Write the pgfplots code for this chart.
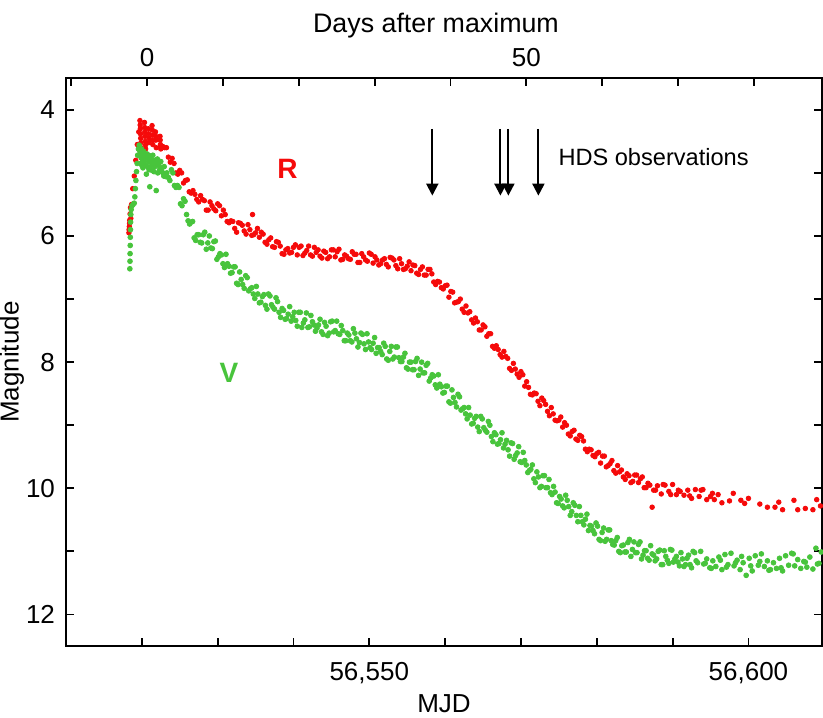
\documentclass[border=0pt]{standalone}
\usepackage{pgfplots}
\pgfplotsset{compat=1.18}
\usepackage{pgfplotstable}
\usepackage{fontspec}
\setmainfont{Liberation Sans}
\usetikzlibrary{arrows.meta}
\definecolor{rred}{RGB}{245,10,10}
\definecolor{vgreen}{RGB}{72,196,60}

\pgfplotstableread{
x y
56518.30 5.95
56518.32 5.90
56518.35 5.85
56518.38 5.80
56518.40 5.75
56518.45 5.65
56518.50 5.55
56518.55 5.72
56518.65 5.50
56518.80 5.25
56519.00 5.05
56519.20 4.80
56519.40 4.55
56519.60 4.35
56519.75 4.17
56519.78 4.24
56519.80 4.30
56519.82 4.38
56519.85 4.45
56519.88 4.52
56519.90 4.60
56520.35 4.20
56520.38 4.28
56520.40 4.35
56520.42 4.42
56520.45 4.50
56520.48 4.56
56520.50 4.62
56520.85 4.30
56520.90 4.38
56520.92 4.52
56520.95 4.45
56521.35 4.25
56521.38 4.32
56521.40 4.40
56521.42 4.48
56521.45 4.55
56521.80 4.35
56521.83 4.42
56521.85 4.48
56521.90 4.60
56522.40 4.42
56522.42 4.48
56522.45 4.55
56522.48 4.58
56522.50 4.62
56522.75 4.58
56523.0 4.60
56523.5 4.75
56524.0 4.77
56524.5 5.00
56525.0 4.96
56525.5 5.16
56526.0 5.11
56526.5 5.32
56527.0 5.34
56527.5 5.46
56528.0 5.42
56528.5 5.59
56529.0 5.46
56529.5 5.57
56530.0 5.49
56530.5 5.68
56531.0 5.66
56531.5 5.79
56532.0 5.77
56532.5 5.94
56533.0 5.80
56533.5 5.92
56534.0 5.82
56534.5 5.99
56534.6 5.66
56535.0 5.95
56535.5 6.02
56536.0 5.97
56536.5 6.13
56537.0 6.03
56537.5 6.18
56538.0 6.10
56538.5 6.28
56539.0 6.22
56539.5 6.27
56540.0 6.18
56540.5 6.30
56541.0 6.16
56541.5 6.27
56542.0 6.16
56542.5 6.32
56543.0 6.26
56543.5 6.32
56544.0 6.24
56544.5 6.36
56545.0 6.22
56545.5 6.33
56546.0 6.21
56546.5 6.37
56547.0 6.32
56547.5 6.37
56548.0 6.29
56548.5 6.42
56549.0 6.28
56549.5 6.38
56550.0 6.27
56550.5 6.43
56551.0 6.38
56551.5 6.44
56552.0 6.36
56552.5 6.49
56553.0 6.35
56553.5 6.47
56554.0 6.36
56554.5 6.53
56555.0 6.48
56555.5 6.55
56556.0 6.47
56556.5 6.61
56557.0 6.49
56557.5 6.62
56558.0 6.53
56558.5 6.73
56559.0 6.72
56559.5 6.82
56560.0 6.79
56560.5 6.97
56561.0 6.89
56561.5 7.05
56562.0 7.00
56562.5 7.21
56563.0 7.22
56563.5 7.33
56564.0 7.30
56564.5 7.49
56565.0 7.41
56565.5 7.59
56566.0 7.55
56566.5 7.78
56567.0 7.80
56567.5 7.92
56568.0 7.91
56568.5 8.10
56569.0 8.02
56569.5 8.19
56570.0 8.15
56570.5 8.38
56571.0 8.40
56571.5 8.52
56572.0 8.50
56572.5 8.69
56573.0 8.61
56573.5 8.78
56574.0 8.72
56574.5 8.92
56575.0 8.92
56575.5 9.03
56576.0 9.00
56576.5 9.17
56577.0 9.08
56577.5 9.24
56578.0 9.18
56578.5 9.38
56579.0 9.38
56579.5 9.48
56580.0 9.45
56580.5 9.60
56581.0 9.49
56581.5 9.64
56582.0 9.56
56582.5 9.76
56583.0 9.74
56583.5 9.82
56584.0 9.77
56584.5 9.91
56585.0 9.79
56585.5 9.91
56586.0 9.82
56586.5 9.99
56587.0 9.95
56587.3 10.30
56587.5 10.03
56588.0 9.96
56588.5 10.09
56589.0 9.95
56589.5 10.05
56590.0 9.94
56590.5 10.10
56591.0 10.05
56591.5 10.11
56592.0 10.03
56592.5 10.16
56593.0 10.02
56593.5 10.13
56594.0 10.02
56594.5 10.18
56595.0 10.13
56595.5 10.18
56596.0 10.10
56596.5 10.23
56597.5 10.20
56598.0 10.08
56599.0 10.19
56599.5 10.24
56600.0 10.16
56601.5 10.25
56602.5 10.30
56603.5 10.30
56604.0 10.22
56604.5 10.34
56606.0 10.19
56606.5 10.34
56607.5 10.32
56608.5 10.34
56609.0 10.18
56609.5 10.28
56523.25 4.60
56523.75 4.83
56524.25 4.85
56524.75 5.02
56525.25 5.00
56525.75 5.12
56526.25 5.30
56526.75 5.28
56527.25 5.42
56527.75 5.36
56528.25 5.44
56528.75 5.59
56529.25 5.52
56529.75 5.60
56530.25 5.52
56530.75 5.59
56531.25 5.77
56531.75 5.76
56532.25 5.88
56532.75 5.79
56533.25 5.83
56533.75 5.97
56534.25 5.90
56534.75 5.98
56535.25 5.88
56535.75 5.94
56536.25 6.10
56536.75 6.06
56537.25 6.17
56537.75 6.09
56538.25 6.16
56538.75 6.29
56539.25 6.20
56539.75 6.26
56540.25 6.14
56540.75 6.18
56541.25 6.31
56541.75 6.23
56542.25 6.30
56542.75 6.18
56543.25 6.22
56543.75 6.35
56544.25 6.26
56544.75 6.33
56545.25 6.22
56545.75 6.25
56546.25 6.38
56546.75 6.30
56547.25 6.36
56547.75 6.25
56548.25 6.29
56548.75 6.42
56549.25 6.33
56549.75 6.40
56550.25 6.29
56550.75 6.33
56551.25 6.46
56551.75 6.38
56552.25 6.45
56552.75 6.34
56553.25 6.38
56553.75 6.52
56554.25 6.44
56554.75 6.52
56555.25 6.41
56555.75 6.46
56556.25 6.59
56556.75 6.53
56557.25 6.62
56557.75 6.53
56558.25 6.60
56558.75 6.77
56559.25 6.73
56559.75 6.84
56560.25 6.78
56560.75 6.88
56561.25 7.06
56561.75 7.04
56562.25 7.16
56562.75 7.11
56563.25 7.20
56563.75 7.38
56564.25 7.36
56564.75 7.49
56565.25 7.44
56565.75 7.55
56566.25 7.75
56566.75 7.74
56567.25 7.88
56567.75 7.83
56568.25 7.94
56568.75 8.13
56569.25 8.11
56569.75 8.24
56570.25 8.20
56570.75 8.31
56571.25 8.51
56571.75 8.49
56572.25 8.62
56572.75 8.57
56573.25 8.67
56573.75 8.85
56574.25 8.82
56574.75 8.93
56575.25 8.87
56575.75 8.96
56576.25 9.14
56576.75 9.10
56577.25 9.22
56577.75 9.16
56578.25 9.25
56578.75 9.42
56579.25 9.39
56579.75 9.50
56580.25 9.43
56580.75 9.49
56581.25 9.66
56581.75 9.61
56582.25 9.72
56582.75 9.64
56583.25 9.71
56583.75 9.86
56584.25 9.80
56584.75 9.89
56585.25 9.79
56585.75 9.85
56586.25 9.99
56586.75 9.92
56587.75 10.03
56588.75 9.94
56589.75 10.10
56590.75 10.03
56592.25 10.12
56593.75 10.03
56595.25 10.08
}\reddata

\pgfplotstableread{
x y
56518.42 6.52
56518.44 6.40
56518.45 6.28
56518.47 6.15
56518.48 6.02
56518.50 5.90
56518.52 5.78
56518.55 5.66
56518.60 5.58
56518.70 5.52
56518.85 5.50
56519.00 5.48
56519.08 5.38
56519.15 5.25
56519.22 5.12
56519.30 4.98
56519.38 4.85
56519.45 4.72
56519.55 4.62
56519.65 4.56
56519.70 4.64
56519.75 4.70
56519.85 4.85
56519.90 4.76
56519.95 4.62
56520.00 4.88
56520.05 4.78
56520.15 4.92
56520.20 4.70
56520.25 4.66
56520.30 4.82
56520.40 4.74
56520.50 4.88
56520.55 4.76
56520.60 5.02
56520.70 4.70
56520.75 4.90
56520.85 4.82
56520.90 4.72
56520.95 4.95
56521.05 5.22
56521.10 4.94
56521.15 4.76
56521.20 4.80
56521.30 4.88
56521.35 4.96
56521.45 4.72
56521.50 4.84
56521.60 4.98
56521.70 4.90
56521.75 4.80
56521.90 5.28
56521.95 4.86
56522.05 4.78
56522.10 5.00
56522.20 4.88
56522.30 4.84
56522.35 4.95
56522.50 4.82
56522.60 4.98
56522.65 4.92
56522.80 5.00
56522.90 5.05
56522.95 4.90
56523.10 5.02
56523.20 5.06
56523.3 5.00
56523.7 5.12
56524.1 5.00
56524.5 5.23
56524.9 5.23
56525.3 5.52
56525.7 5.45
56526.1 5.76
56526.5 5.78
56526.9 6.03
56527.3 5.98
56527.7 6.10
56528.1 5.98
56528.5 6.21
56528.9 6.00
56529.3 6.20
56529.7 6.08
56530.1 6.33
56530.5 6.30
56530.9 6.50
56531.3 6.44
56531.7 6.59
56532.1 6.49
56532.5 6.75
56532.9 6.57
56533.3 6.77
56533.7 6.63
56534.1 6.87
56534.5 6.82
56534.9 6.99
56535.3 6.92
56535.7 7.05
56536.1 6.93
56536.5 7.16
56536.9 6.95
56537.3 7.13
56537.7 6.98
56538.1 7.21
56538.5 7.15
56538.9 7.32
56539.3 7.24
56539.7 7.35
56540.1 7.21
56540.5 7.43
56540.9 7.21
56541.3 7.38
56541.7 7.22
56542.1 7.44
56542.5 7.36
56542.9 7.51
56543.3 7.41
56543.7 7.52
56544.1 7.37
56544.5 7.58
56544.9 7.36
56545.3 7.52
56545.7 7.35
56546.1 7.56
56546.5 7.50
56546.9 7.66
56547.3 7.57
56547.7 7.68
56548.1 7.54
56548.5 7.76
56548.9 7.54
56549.3 7.71
56549.7 7.55
56550.1 7.77
56550.5 7.70
56550.9 7.86
56551.3 7.77
56551.7 7.88
56552.1 7.75
56552.5 7.97
56552.9 7.75
56553.3 7.92
56553.7 7.76
56554.1 7.99
56554.5 7.92
56554.9 8.09
56555.3 8.00
56555.7 8.12
56556.1 7.99
56556.5 8.21
56556.9 8.00
56557.3 8.17
56557.7 8.02
56558.1 8.25
56558.5 8.22
56558.9 8.41
56559.3 8.35
56559.7 8.49
56560.1 8.38
56560.5 8.63
56560.9 8.44
56561.3 8.64
56561.7 8.51
56562.1 8.76
56562.5 8.72
56562.9 8.90
56563.3 8.84
56563.7 8.97
56564.1 8.86
56564.5 9.10
56564.9 8.90
56565.3 9.08
56565.7 8.94
56566.1 9.18
56566.5 9.12
56566.9 9.30
56567.3 9.23
56567.7 9.36
56568.1 9.24
56568.5 9.49
56568.9 9.29
56569.3 9.48
56569.7 9.34
56570.1 9.59
56570.5 9.56
56570.9 9.75
56571.3 9.70
56571.7 9.85
56572.1 9.74
56572.5 9.99
56572.9 9.80
56573.3 9.99
56573.7 9.86
56574.1 10.10
56574.5 10.06
56574.9 10.24
56575.3 10.17
56575.7 10.31
56576.1 10.19
56576.5 10.43
56576.9 10.23
56577.3 10.43
56577.7 10.29
56578.1 10.53
56578.5 10.49
56578.9 10.67
56579.3 10.60
56579.7 10.72
56580.1 10.60
56580.5 10.83
56580.9 10.63
56581.3 10.81
56581.7 10.66
56582.1 10.89
56582.5 10.83
56582.9 11.00
56583.3 10.91
56583.7 11.01
56584.1 10.86
56584.5 11.08
56584.9 10.85
56585.3 11.02
56585.7 10.85
56586.1 11.06
56586.5 10.99
56586.9 11.14
56587.3 11.04
56587.7 11.15
56588.1 11.00
56588.5 11.21
56588.9 10.99
56589.3 11.14
56589.7 10.97
56590.1 11.17
56590.5 11.08
56590.9 11.23
56591.3 11.12
56591.7 11.21
56592.1 11.06
56592.5 11.26
56592.9 11.02
56593.3 11.18
56593.7 11.00
56594.1 11.20
56594.5 11.12
56594.9 11.26
56595.3 11.15
56595.7 11.24
56596.1 11.09
56596.5 11.29
56596.9 11.05
56597.3 11.21
56597.7 11.03
56598.1 11.23
56598.5 11.14
56598.9 11.29
56599.3 11.18
56599.7 11.38
56600.1 11.11
56600.5 11.31
56600.9 11.07
56601.3 11.22
56601.7 11.04
56602.1 11.24
56602.5 11.15
56602.9 11.29
56603.3 11.18
56603.7 11.27
56604.1 11.11
56604.5 11.31
56604.9 11.07
56605.3 11.22
56605.7 11.03
56606.1 11.23
56606.5 11.13
56606.9 11.27
56607.3 11.16
56607.7 11.25
56608.1 11.09
56608.5 11.28
56608.9 10.95
56609.3 11.19
56609.6 11.01
56523.5 5.07
56523.9 4.95
56524.3 5.20
56524.7 5.20
56525.1 5.49
56525.5 5.41
56525.9 5.66
56526.3 5.81
56526.7 5.77
56527.1 6.07
56527.5 5.98
56527.9 6.11
56528.3 5.94
56528.7 6.11
56529.1 6.19
56529.5 6.09
56529.9 6.37
56530.3 6.28
56530.7 6.44
56531.1 6.29
56531.5 6.48
56531.9 6.58
56532.3 6.49
56532.7 6.77
56533.1 6.69
56533.5 6.83
56533.9 6.66
56534.3 6.84
56534.7 6.92
56535.1 6.80
56535.5 7.06
56535.9 6.96
56536.3 7.10
56536.7 6.92
56537.1 7.09
56537.5 7.16
56537.9 7.04
56538.3 7.29
56538.7 7.18
56539.1 7.31
56539.5 7.12
56539.9 7.28
56540.3 7.34
56540.7 7.21
56541.1 7.45
56541.5 7.33
56541.9 7.45
56542.3 7.26
56542.7 7.41
56543.1 7.46
56543.5 7.32
56543.9 7.56
56544.3 7.43
56544.7 7.54
56545.1 7.35
56545.5 7.50
56545.9 7.55
56546.3 7.42
56546.7 7.66
56547.1 7.54
56547.5 7.66
56547.9 7.47
56548.3 7.63
56548.7 7.69
56549.1 7.56
56549.5 7.80
56549.9 7.68
56550.3 7.80
56550.7 7.61
56551.1 7.77
56551.5 7.83
56551.9 7.70
56552.3 7.95
56552.7 7.83
56553.1 7.95
56553.5 7.76
56553.9 7.93
56554.3 7.99
56554.7 7.86
56555.1 8.11
56555.5 8.00
56555.9 8.12
56556.3 7.94
56556.7 8.11
56557.1 8.17
56557.5 8.05
56557.9 8.30
56558.3 8.20
56558.7 8.36
56559.1 8.20
56559.5 8.39
56559.9 8.48
56560.3 8.38
56560.7 8.65
56561.1 8.56
56561.5 8.71
56561.9 8.55
56562.3 8.74
56562.7 8.82
56563.1 8.72
56563.5 8.98
56563.9 8.89
56564.3 9.03
56564.7 8.86
56565.1 9.04
56565.5 9.11
56565.9 9.00
56566.3 9.26
56566.7 9.15
56567.1 9.29
56567.5 9.12
56567.9 9.30
56568.3 9.39
56568.7 9.28
56569.1 9.54
56569.5 9.44
56569.9 9.58
56570.3 9.43
56570.7 9.63
56571.1 9.72
56571.5 9.63
56571.9 9.91
56572.3 9.82
56572.7 9.97
56573.1 9.80
56573.5 9.99
56573.9 10.07
56574.3 9.97
56574.7 10.23
56575.1 10.13
56575.5 10.28
56575.9 10.11
56576.3 10.29
56576.7 10.37
56577.1 10.27
56577.5 10.53
56577.9 10.43
56578.3 10.58
56578.7 10.41
56579.1 10.59
56579.5 10.67
56579.9 10.55
56580.3 10.81
56580.7 10.70
56581.1 10.84
56581.5 10.66
56581.9 10.83
56582.3 10.90
56582.7 10.78
56583.1 11.02
56583.5 10.90
56583.9 11.01
56584.3 10.81
56584.7 10.97
56585.1 11.02
56585.5 10.89
56585.9 11.12
56586.3 10.99
56586.7 11.11
56587.1 10.91
56587.5 11.06
56587.9 11.12
56588.3 10.98
56588.7 11.21
56589.1 11.08
56589.5 11.19
56589.9 10.98
56590.3 11.12
56590.7 11.17
56591.1 11.02
56591.5 11.24
56591.9 11.11
56592.3 11.21
56592.7 11.00
56593.1 11.15
56594.3 11.19
56595.1 11.27
56596.3 11.14
56597.1 11.25
56598.3 11.18
56599.1 11.08
56600.3 11.23
56601.5 11.16
56602.7 11.30
56604.3 11.26
56605.9 11.04
56607.5 11.17
56609.1 11.20
}\greendata

\begin{document}
\begin{tikzpicture}
\begin{axis}[name=main,
  scale only axis, width=378pt, height=283.85pt,
  xmin=56510, xmax=56609.7, ymin=3.5, ymax=12.5, y dir=reverse,
  scaled x ticks=false, scaled y ticks=false,
  axis line style={line width=0.9pt},
  tick style={line width=0.9pt, black},
  major tick length=4pt, minor tick length=4pt,
  tick align=inside,
  xtick pos=bottom, ytick pos=both,
  xtick={56520,56530,...,56600},
  xticklabels={,,,{56,550},,,,,{56,600}},
  ytick={4,6,8,10,12}, minor ytick={5,7,9,11},
  yticklabels={4,6,8,10,12},
  /pgf/number format/assume math mode=true,
  ticklabel style={font=\fontsize{13}{15}\selectfont},
  xticklabel style={yshift=-4.5pt},
  yticklabel style={anchor=east, xshift=-2pt},
  xlabel={MJD}, ylabel={Magnitude},
  label style={font=\fontsize{13}{15}\selectfont},
  xlabel style={at={(axis description cs:0.5,-0.074)}, anchor=north},
  ylabel style={at={(axis description cs:-0.0714,0.5)}, anchor=center},
]
\addplot[only marks, mark=*, mark size=1.15pt, color=rred] table {\reddata};
\addplot[only marks, mark=*, mark size=1.2pt, color=vgreen] table {\greendata};
\node[font=\bfseries\fontsize{14}{16}\selectfont, text=rred] at (axis cs:56539.2,4.94) {R};
\node[font=\bfseries\fontsize{14}{16}\selectfont, text=vgreen] at (axis cs:56531.5,8.17) {V};
\node[anchor=west, inner sep=0pt, font=\fontsize{11.8}{14}\selectfont] at (axis cs:56574.9,4.75) {HDS observations};
\draw[line width=1pt, -{Triangle[width=6pt,length=6pt]}] (axis cs:56558.31,4.30) -- (axis cs:56558.31,5.36);
\draw[line width=1pt, -{Triangle[width=6pt,length=6pt]}] (axis cs:56567.29,4.30) -- (axis cs:56567.29,5.36);
\draw[line width=1pt, -{Triangle[width=6pt,length=6pt]}] (axis cs:56568.34,4.30) -- (axis cs:56568.34,5.36);
\draw[line width=1pt, -{Triangle[width=6pt,length=6pt]}] (axis cs:56572.30,4.30) -- (axis cs:56572.30,5.36);
\end{axis}
\begin{axis}[
  scale only axis, width=378pt, height=283.85pt,
  at={(main.south west)}, anchor=south west,
  xmin=-10.7, xmax=89.0, ymin=3.5, ymax=12.5,
  scaled x ticks=false,
  axis x line*=top, axis y line=none,
  axis line style={line width=0.9pt},
  tick style={line width=0.9pt, black},
  major tick length=4pt, tick align=inside,
  xtick={-10,0,...,80}, xticklabels={,0,,,,,50,,,},
  xticklabel style={anchor=base, yshift=6pt, font=\fontsize{13}{15}\selectfont},
  xlabel={Days after maximum},
  xlabel style={at={(axis description cs:0.5,1.081)}, anchor=base, xshift=-4pt, font=\fontsize{13.4}{15}\selectfont},
]
\end{axis}
\pgfresetboundingbox
\path ([shift={(-33pt,-36pt)}]main.south west) rectangle ([shift={(0.5pt,39.15pt)}]main.north east);
\end{tikzpicture}
\end{document}
